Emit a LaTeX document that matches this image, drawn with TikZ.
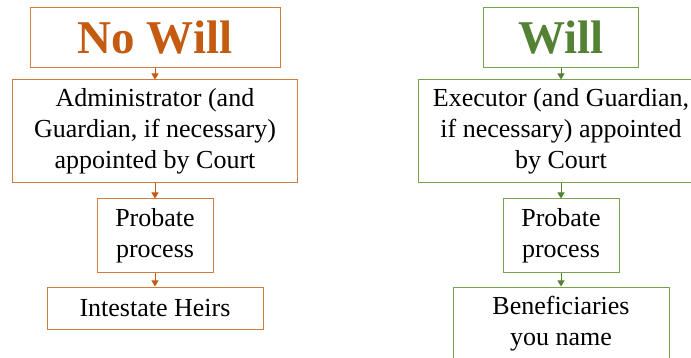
\documentclass[tikz,border=0pt]{standalone}
\usepackage{fontspec}
\setmainfont{Liberation Serif}
\usetikzlibrary{arrows.meta}
\definecolor{orangetxt}{HTML}{C55A11}
\definecolor{orangeln}{HTML}{D27B41}
\definecolor{greentxt}{HTML}{548235}
\definecolor{greenln}{HTML}{76A352}

\begin{document}
\begin{tikzpicture}[
    x=1pt, y=-1pt,
    b/.style={rectangle, draw, line width=1pt, fill=white, inner sep=0pt, align=center, font=\fontsize{26}{31}\selectfont},
    t/.style={b, font=\fontsize{47}{50}\selectfont\bfseries},
    a/.style={-{Triangle[length=6pt, width=7pt]}, line width=1pt},
]
\useasboundingbox (0,0) rectangle (691,358);
\clip (0,0) rectangle (691,358);

\node[t, draw=orangeln, text=orangetxt, minimum width=250, minimum height=60] (nowill) at (155,37.5) {No Will};
\node[b, draw=orangeln, minimum width=285, minimum height=103] (admin) at (155,131.5) {Administrator (and\\Guardian, if necessary)\\appointed by Court};
\node[b, draw=orangeln, minimum width=116, minimum height=74] (probl) at (155,236) {Probate\\process};
\node[b, draw=orangeln, minimum width=216, minimum height=42] (heirs) at (155,308) {Intestate Heirs};

\node[t, draw=greenln, text=greentxt, minimum width=155, minimum height=60] (will) at (561,37.5) {Will};
\node[b, draw=greenln, minimum width=286, minimum height=103] (exec) at (561,131.5) {Executor (and Guardian,\\if necessary) appointed\\by Court};
\node[b, draw=greenln, minimum width=116, minimum height=74] (probr) at (561,236) {Probate\\process};
\node[b, draw=greenln, minimum width=216, minimum height=74] (benef) at (561,324) {Beneficiaries\\you name};

\draw[a, orangetxt] (nowill) -- (admin);
\draw[a, orangetxt] (admin) -- (probl);
\draw[a, orangetxt] (probl) -- (heirs);
\draw[a, greentxt] (will) -- (exec);
\draw[a, greentxt] (exec) -- (probr);
\draw[a, greentxt] (probr) -- (benef);
\end{tikzpicture}
\end{document}
